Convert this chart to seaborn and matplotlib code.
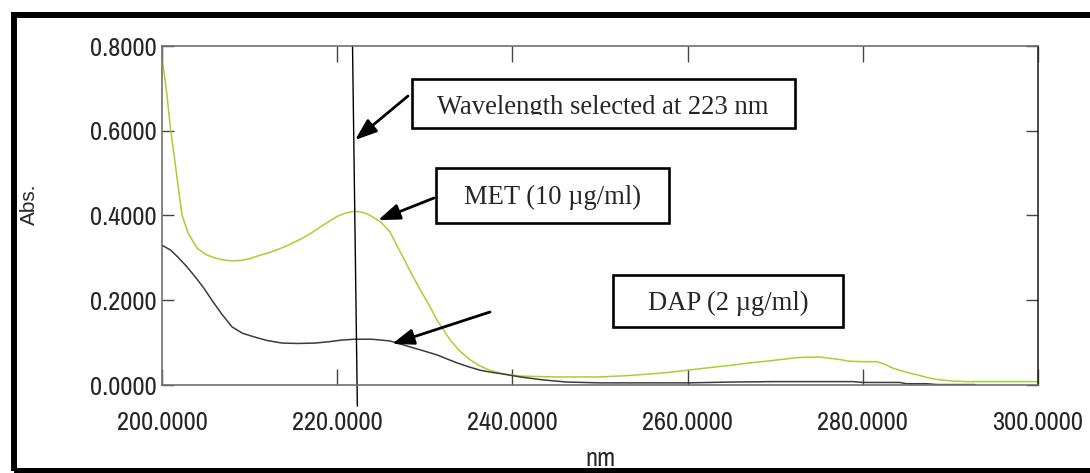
import matplotlib
matplotlib.use("Agg")
import matplotlib.pyplot as plt
import seaborn as sns
from matplotlib import font_manager as fm
from matplotlib.patches import Rectangle, ArrowStyle
from matplotlib.transforms import Bbox, TransformedBbox

# ---------------- data ----------------
MET_nm = [200, 200.5, 201, 201.5, 202, 202.3, 203, 204, 205, 206, 207, 208, 209, 210,
          211, 212, 213, 214, 215, 216, 217, 218, 219, 220, 221, 222, 223, 223.7, 225,
          226, 227.5, 228.5, 229.5, 230.5, 231.4, 232.2, 232.9, 234, 235.2, 236.3, 237.4,
          238.6, 239.7, 241, 245, 250, 253, 255.7, 258, 260, 262.5, 265.2, 267, 269.4,
          271, 272.8, 275.1, 277.4, 278.5, 280, 281.6, 282.5, 283.4, 284.8, 286.2, 287.5,
          288.8, 290.5, 292, 296, 300]
MET_abs = [0.772, 0.696, 0.600, 0.524, 0.444, 0.400, 0.358, 0.323, 0.308, 0.300, 0.295,
           0.293, 0.294, 0.298, 0.305, 0.311, 0.318, 0.326, 0.336, 0.346, 0.358, 0.372,
           0.385, 0.398, 0.406, 0.410, 0.407, 0.401, 0.384, 0.362, 0.302, 0.262, 0.224,
           0.188, 0.153, 0.128, 0.106, 0.080, 0.059, 0.045, 0.035, 0.028, 0.024, 0.021,
           0.019, 0.019, 0.022, 0.026, 0.030, 0.035, 0.041, 0.047, 0.052, 0.057, 0.061,
           0.065, 0.066, 0.060, 0.056, 0.055, 0.055, 0.049, 0.040, 0.031, 0.024, 0.017,
           0.012, 0.009, 0.008, 0.008, 0.008]

DAP_nm = [200, 201, 201.8, 202.8, 203.8, 204.8, 205.7, 206.8, 208, 209.2, 210.6, 212,
          213.7, 215.5, 217.5, 219, 220.5, 222, 224, 226, 228.3, 229.8, 231.4, 232.6,
          233.7, 235, 236.3, 237.6, 238.9, 240.9, 243.5, 246.2, 250, 255, 260, 265, 269.8,
          275, 278.9, 280, 284.2, 285, 287.3, 288.5, 292.8]
DAP_abs = [0.330, 0.318, 0.302, 0.280, 0.255, 0.228, 0.200, 0.168, 0.137, 0.122, 0.113,
           0.105, 0.099, 0.098, 0.099, 0.102, 0.106, 0.108, 0.108, 0.104, 0.090, 0.081,
           0.071, 0.061, 0.052, 0.043, 0.035, 0.030, 0.026, 0.019, 0.012, 0.007, 0.005,
           0.005, 0.005, 0.007, 0.008, 0.008, 0.008, 0.006, 0.006, 0.003, 0.003, 0.001,
           0.001]

selected_nm = [221.75, 222.3]
selected_abs = [0.80, -0.05]

x_ticks = [200, 220, 240, 260, 280, 300]
x_tick_labels = ["200.0000", "220.0000", "240.0000", "260.0000", "280.0000", "300.0000"]
y_ticks = [0.0, 0.2, 0.4, 0.6, 0.8]
y_tick_labels = ["0.0000", "0.2000", "0.4000", "0.6000", "0.8000"]

label_wavelength = "Wavelength selected at 223 nm"
label_met = "MET (10 \u00b5g/ml)"
label_dap = "DAP (2 \u00b5g/ml)"

# ---------------- style ----------------
sns.set_style("white")
names = {f.name for f in fm.fontManager.ttflist}
if "Archivo Narrow" in names:
    tick_family, tick_size = "Archivo Narrow", 19
elif "Liberation Sans Narrow" in names:
    tick_family, tick_size = "Liberation Sans Narrow", 19
else:
    tick_family, tick_size = "Liberation Sans", 16
plt.rcParams["font.family"] = ["Liberation Sans", "DejaVu Sans"]

W, H = 1090, 473
fig = plt.figure(figsize=(W / 100, H / 100), dpi=100)


def fx(px):
    return px / W


def fy(py):
    return 1 - py / H


ax = fig.add_axes([fx(162), fy(385), fx(1038) - fx(162), fy(46) - fy(385)])

sns.lineplot(x=MET_nm, y=MET_abs, ax=ax, color="#a8d02e", linewidth=1.1,
             sort=False, estimator=None)
sns.lineplot(x=DAP_nm, y=DAP_abs, ax=ax, color="#3c3c3c", linewidth=1.1,
             sort=False, estimator=None)
ax.plot(selected_nm, selected_abs, color="black", linewidth=1.0, clip_on=False)

ax.set_xlim(200, 300)
ax.set_ylim(0, 0.8)
ax.set_xticks(x_ticks)
ax.set_xticklabels(x_tick_labels, fontfamily=tick_family, fontsize=tick_size)
ax.set_yticks(y_ticks)
ax.set_yticklabels(y_tick_labels, fontfamily=tick_family, fontsize=tick_size)
ax.tick_params(axis="x", direction="in", length=11.5, width=1.0, top=True, bottom=True,
               color="#444444", pad=19)
ax.tick_params(axis="y", direction="in", length=8.6, width=1.0, left=True, right=True,
               color="#444444", pad=3.6)
for s in ax.spines.values():
    s.set_color("#707070")
    s.set_linewidth(1.2)
ax.spines["right"].set_color("#2a2a2a")

ax.set_xlabel("nm", fontfamily=tick_family, fontsize=tick_size)
ax.xaxis.set_label_coords(0.501, -0.183)
ax.set_ylabel("Abs.", fontsize=15)
ax.yaxis.set_label_coords(-0.1404, 0.534)


# ---------------- annotation boxes ----------------
def box(x0, y0, x1, y1, text, cx, baseline, clip_y=None):
    r = Rectangle((fx(x0), fy(y1)), fx(x1) - fx(x0), fy(y0) - fy(y1),
                  transform=fig.transFigure, facecolor="white", edgecolor="black",
                  linewidth=1.9, zorder=5)
    fig.patches.append(r)
    t = fig.text(fx(cx), fy(baseline), text, ha="center", va="baseline",
                 fontfamily="Liberation Serif", fontsize=19.2, zorder=6)
    if clip_y is not None:
        t.set_clip_box(TransformedBbox(Bbox([[fx(x0), fy(clip_y)], [fx(x1), fy(y0)]]),
                                       fig.transFigure))
        t.set_clip_on(True)
    return t


box(412, 79, 795, 128, label_wavelength, 603, 114, clip_y=115.5)
box(436, 168, 669, 223, label_met, 552, 204)
box(613, 275, 843, 327, label_dap, 728, 310)

astyle = ArrowStyle("-|>", head_length=0.55, head_width=0.2)
aprops = dict(arrowstyle=astyle, mutation_scale=24, lw=2.0, color="black",
              shrinkA=0, shrinkB=0)
ax.annotate("", xy=(222.03, 0.578), xycoords="data",
            xytext=(fx(408), fy(96)), textcoords="figure fraction",
            arrowprops=aprops, annotation_clip=False)
ax.annotate("", xy=(224.66, 0.389), xycoords="data",
            xytext=(fx(434), fy(198)), textcoords="figure fraction",
            arrowprops=aprops, annotation_clip=False)
ax.annotate("", xy=(226.26, 0.097), xycoords="data",
            xytext=(fx(490), fy(312)), textcoords="figure fraction",
            arrowprops=aprops, annotation_clip=False)

# outer frame
fig.patches.append(Rectangle((fx(14), fy(471)), 2.0, fy(14.5) - fy(471),
                             transform=fig.transFigure, fill=False, edgecolor="black",
                             linewidth=4.3, zorder=10))

fig.savefig("out.png", dpi=100)
